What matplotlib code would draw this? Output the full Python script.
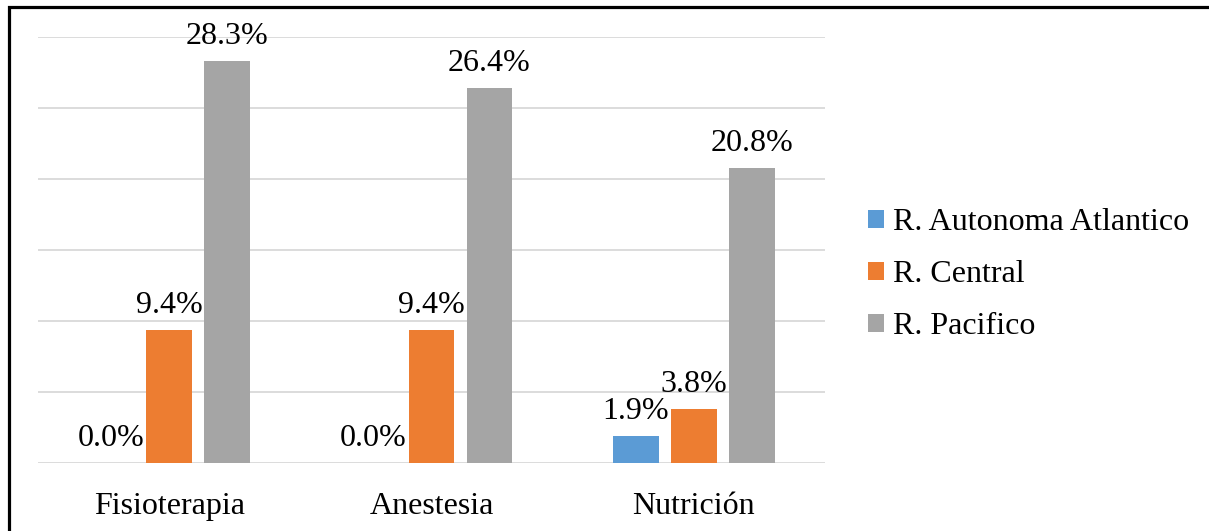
import numpy as np
import matplotlib
matplotlib.use("Agg")
import matplotlib.pyplot as plt
from matplotlib.patches import Rectangle

categories = ["Fisioterapia", "Anestesia", "Nutrición"]
series_names = ["R. Autonoma Atlantico", "R. Central", "R. Pacifico"]
autonoma = [0.0, 0.0, 1.9]
central = [9.4, 9.4, 3.8]
pacifico = [28.3, 26.4, 20.8]
colors = ["#5B9BD5", "#ED7D31", "#A5A5A5"]

plt.rcParams["font.family"] = ["Liberation Serif", "DejaVu Serif"]

W, H = 1209, 531
fs = 23
fig = plt.figure(figsize=(W / 100, H / 100), dpi=100)
ax = fig.add_axes([38 / W, (H - 463) / H, (825 - 38) / W, (463 - 37) / H])

x = np.arange(len(categories))
width = 0.175
offset = 0.221
handles = []
for i, (vals, name) in enumerate(zip([autonoma, central, pacifico], series_names)):
    bars = ax.bar(x + (i - 1) * offset, vals, width, color=colors[i], label=name, zorder=3)
    ax.bar_label(bars, labels=[f"{v:.1f}%" for v in vals], padding=7, fontsize=fs, color="#000000")
    handles.append(bars)

ax.set_xlim(-0.5, 2.5)
ax.set_ylim(0, 30)
ax.set_yticks(np.arange(0, 31, 5))
ax.yaxis.grid(True, color="#d9d9d9", linewidth=1.3, zorder=0)
ax.set_yticklabels([])
ax.tick_params(axis="y", length=0)
ax.tick_params(axis="x", length=0, labelsize=fs, pad=21)
ax.set_xticks(x)
ax.set_xticklabels(categories)
for s in ax.spines.values():
    s.set_visible(False)

fig.legend(handles=handles, labels=series_names, loc="center left",
           bbox_to_anchor=(839 / W, 1 - 275 / H), frameon=False, fontsize=fs,
           handlelength=0.5, handleheight=0.5, handletextpad=0.3, labelspacing=0.72)

# outer border of the picture (only top and left edges fall inside)
fig.add_artist(Rectangle((9 / W, -0.1), 2, (H - 7) / H + 0.1, transform=fig.transFigure,
                         fill=False, edgecolor="black", linewidth=2.3))

fig.savefig("out.png", dpi=100)
